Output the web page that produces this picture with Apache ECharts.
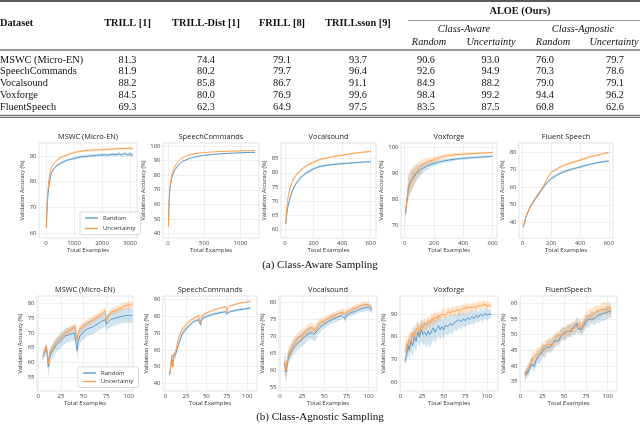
<!DOCTYPE html>
<html><head><meta charset="utf-8">
<script src="https://cdn.jsdelivr.net/npm/echarts/dist/echarts.min.js"></script>
<style>html,body{margin:0;padding:0;background:#fff}#c{width:640px;height:424px}</style>
</head><body><div id="c"></div>
<script>
// ---------------- TABLE DATA ----------------
const tableHeaders = ['TRILL [1]', 'TRILL-Dist [1]', 'FRILL [8]', 'TRILLsson [9]'];
const tableDatasets = ['MSWC (Micro-EN)', 'SpeechCommands', 'Vocalsound', 'Voxforge', 'FluentSpeech'];
const trill = [81.3, 81.9, 88.2, 84.5, 69.3];
const trillDist = [74.4, 80.2, 85.8, 80.0, 62.3];
const frill = [79.1, 79.7, 86.7, 76.9, 64.9];
const trillsson = [93.7, 96.4, 91.1, 99.6, 97.5];
const aloeAwareRandom = [90.6, 92.6, 84.9, 98.4, 83.5];
const aloeAwareUnc = [93.0, 94.9, 88.2, 99.2, 87.5];
const aloeAgnRandom = [76.0, 70.3, 79.0, 94.4, 60.8];
const aloeAgnUnc = [79.7, 78.6, 79.1, 96.2, 62.6];

// ---------------- CHART TITLES / TICKS ----------------
const titlesA = ['MSWC (Micro-EN)', 'SpeechCommands', 'Vocalsound', 'Voxforge', 'Fluent Speech'];
const titlesB = ['MSWC (Micro-EN)', 'SpeechCommands', 'Vocalsound', 'Voxforge', 'FluentSpeech'];
const xTicksA1 = [0, 1000, 2000, 3000];
const xTicksA2 = [0, 500, 1000];
const xTicksA = [0, 200, 400, 600];
const xTicksB = [0, 25, 50, 75, 100];
const yTicksA1 = [60, 70, 80, 90];
const yTicksA2 = [40, 50, 60, 70, 80, 90, 100];
const yTicksA3 = [60, 65, 70, 75, 80, 85];
const yTicksA4 = [70, 80, 90, 100];
const yTicksA5 = [40, 50, 60, 70, 80];
const yTicksB1 = [55, 60, 65, 70, 75, 80];
const yTicksB2 = [40, 50, 60, 70, 80, 90];
const yTicksB3 = [55, 60, 65, 70, 75, 80];
const yTicksB4 = [60, 70, 80, 90];
const yTicksB5 = [35, 40, 45, 50, 55, 60];

// ---------------- SERIES DATA [x, mean, std] ----------------
// (a) Class-aware
const a1Random = [[10,62,0.6],[50,72,0.8],[100,78,0.8],[150,81.5,0.7],[200,83.5,0.6],[300,85.3,0.5],[400,86.3,0.5],[500,87,0.5],[600,87.6,0.5],[750,88.3,0.5],[900,88.7,0.5],[1000,89,0.5],[1200,89.5,0.5],[1400,89.8,0.5],[1600,90,0.5],[1800,90.2,0.5],[2000,90.4,0.6],[2200,90.3,0.6],[2400,90.6,0.6],[2500,90.4,0.7],[2600,90.8,0.7],[2700,90.3,0.7],[2800,90.9,0.7],[2900,90.4,0.8],[3000,90.7,0.8],[3100,90.2,0.8]];
const a1Unc = [[10,62,0.6],[50,74,0.8],[100,80.5,0.7],[150,83.8,0.6],[200,85.7,0.5],[300,87.3,0.4],[400,88.4,0.4],[500,89.2,0.4],[600,89.7,0.4],[750,90.3,0.4],[900,90.9,0.4],[1000,91.3,0.4],[1200,91.7,0.4],[1400,92,0.4],[1600,92.2,0.4],[1800,92.3,0.4],[2000,92.4,0.4],[2200,92.5,0.4],[2400,92.7,0.4],[2600,92.8,0.4],[2800,92.9,0.4],[3000,93,0.4],[3100,92.8,0.4]];
const a2Random = [[5,45,1],[15,62,1],[25,70,1],[50,78,0.8],[75,81.5,0.6],[100,84,0.5],[150,87.5,0.4],[200,89.5,0.4],[300,91.5,0.3],[400,92.8,0.3],[500,93.6,0.3],[600,94.1,0.3],[700,94.5,0.3],[800,94.8,0.3],[900,95.1,0.3],[1000,95.3,0.3],[1100,95.5,0.3],[1200,95.6,0.3]];
const a2Unc = [[5,45,1],[15,64,1],[25,72,1],[50,80,0.8],[75,83.8,0.6],[100,86.5,0.5],[150,90,0.4],[200,92,0.3],[300,94,0.3],[400,95,0.3],[500,95.5,0.2],[600,95.8,0.2],[700,96.1,0.2],[800,96.3,0.2],[900,96.5,0.2],[1000,96.6,0.2],[1100,96.7,0.2],[1200,96.8,0.2]];
const a3Random = [[5,62,0.8],[10,64.5,0.8],[20,68,0.8],[35,71,0.7],[50,73.5,0.7],[75,76,0.6],[100,77.8,0.6],[125,79,0.6],[150,80,0.5],[200,81.4,0.5],[250,82.3,0.4],[300,82.7,0.4],[350,83,0.4],[400,83.2,0.4],[450,83.4,0.3],[500,83.6,0.3],[550,83.8,0.3],[600,83.9,0.3]];
const a3Unc = [[5,62,0.8],[10,66,0.8],[20,71,0.8],[35,74.5,0.7],[50,77,0.7],[75,79,0.6],[100,80.5,0.6],[125,81.6,0.5],[150,82.5,0.5],[200,83.8,0.4],[250,84.8,0.4],[300,85.3,0.3],[350,85.8,0.3],[400,86.2,0.3],[450,86.6,0.3],[500,87,0.3],[550,87.3,0.3],[600,87.5,0.3]];
const a4Random = [[5,74,1.5],[15,79,3],[25,84,4],[40,86.5,4],[60,88.5,3.5],[80,90,3],[100,91,2.5],[125,92,2],[150,92.8,1.5],[200,93.8,1],[250,94.6,0.8],[300,95.1,0.7],[350,95.5,0.6],[400,95.8,0.6],[450,96,0.5],[500,96.2,0.5],[550,96.4,0.5],[600,96.6,0.4]];
const a4Unc = [[5,74,1.5],[15,80,3],[25,85,4.5],[40,87,4.5],[60,89,4],[80,90.5,3],[100,92,2.5],[125,93.5,2],[150,94.3,1.5],[200,95.3,1],[250,96.3,0.8],[300,96.9,0.7],[350,97.2,0.6],[400,97.4,0.5],[450,97.6,0.5],[500,97.7,0.4],[550,97.9,0.4],[600,98,0.4]];
const a5Random = [[5,37,0.5],[25,43,0.6],[50,48,0.7],[75,51.5,0.8],[100,54.5,0.8],[125,57.5,0.8],[150,60.5,0.8],[175,63,0.8],[200,65,0.8],[250,67.5,0.8],[300,69.3,0.7],[350,70.5,0.7],[400,71.6,0.7],[450,72.7,0.6],[500,73.7,0.6],[550,74.5,0.6],[600,75,0.5]];
const a5Unc = [[5,37.5,0.5],[25,43.5,0.6],[50,48.5,0.7],[75,52,0.8],[100,55,0.8],[125,58,0.8],[150,61.5,0.8],[175,65.5,0.8],[200,68.5,0.8],[250,71,0.7],[300,73,0.7],[350,74.2,0.6],[400,75.5,0.6],[450,77,0.6],[500,78,0.5],[550,79,0.5],[600,80,0.5]];
// (b) Class-agnostic
const b1Random = [[5,62,1.5],[7,63.5,2],[9,64.5,2],[10,63,2.5],[11,58.5,3.5],[12,61,3],[14,63,2.5],[17,64.5,2.5],[20,66,2.5],[25,67.5,2.5],[30,69,2.5],[35,69.5,2.5],[40,70,2.5],[42,69.5,3],[43,64,4],[44,67,3],[46,69,2.5],[50,70.5,2.5],[55,71.5,2.5],[60,72,2.5],[65,73,2.5],[70,74,2.5],[74,74.5,2.5],[75,73,3],[76,73.5,2.5],[80,74.5,2.5],[85,75,2.5],[90,75.5,2.5],[95,75.8,2.5],[100,76,2.5],[104,75.8,2.5]];
const b1Unc = [[5,62,1],[7,64,1.2],[9,65.5,1.2],[10,63,1.5],[11,59.5,2],[12,62,1.5],[14,64,1.2],[17,65.5,1.2],[20,67,1.2],[25,68.5,1.2],[30,70,1.2],[35,71,1.2],[40,72,1.2],[42,71.5,1.5],[43,67.5,2],[44,70,1.5],[46,71.5,1.2],[50,72.5,1.2],[55,73.5,1.2],[60,74.5,1.2],[65,75.5,1.2],[70,76.5,1.2],[74,77.5,1.2],[75,74,1.5],[76,75,1.2],[80,77,1.2],[85,77.7,1.2],[90,78.3,1.2],[95,79,1.2],[100,79.5,1.2],[104,79.5,1.2]];
const b2Random = [[5,45,1],[6,48,1.5],[7,52,2],[8,54,2],[9,50,2],[10,56,2],[11,57,1.5],[12,55,2],[13,58,1.5],[14,60,1.5],[16,63,1.5],[18,66,1.5],[20,69,1.5],[25,72.5,1.2],[30,75,1],[35,77,1],[40,78,1],[42,78.5,1],[43,75,1.5],[44,77.5,1],[46,79,1],[50,80,0.8],[55,80.8,0.8],[60,81.5,0.8],[65,82,0.8],[70,82.5,0.8],[74,82.8,0.8],[75,81.5,1],[76,82.5,0.8],[80,83,0.8],[85,83.5,0.7],[90,84,0.7],[95,84.3,0.7],[100,84.7,0.7],[104,85,0.7]];
const b2Unc = [[5,45,1],[6,48.5,1.5],[7,53,2],[8,57,2],[9,50,2],[10,57,2],[11,58,1.5],[12,56,2],[13,60,1.5],[14,63,1.5],[16,67,1.5],[18,69.5,1.2],[20,72,1.2],[25,75,1],[30,77.5,1],[35,79,0.8],[40,80.5,0.8],[42,80.5,0.8],[43,76,1.2],[44,79,1],[46,81,0.8],[50,82,0.6],[55,83,0.6],[60,84,0.6],[65,84.7,0.6],[70,85.3,0.6],[74,86,0.6],[75,82.5,1],[76,85,0.6],[80,86.5,0.5],[85,87.2,0.5],[90,87.8,0.5],[95,88.3,0.5],[100,88.6,0.5],[104,89,0.5]];
const b3Random = [[5,62,2.5],[6,61,3],[7,59.5,3],[8,61,2.5],[9,63,2],[10,64,2],[12,65,2],[15,66.5,2],[18,67.5,2],[20,68,2],[25,69,2],[30,70.3,2],[35,71,1.8],[38,70.5,1.8],[40,70.2,1.8],[42,71.5,1.5],[45,72.5,1.5],[50,73.5,1.3],[55,74.3,1.2],[60,75,1.2],[65,75.5,1.2],[70,76,1],[72,76.5,1],[73,75,1.2],[75,76,1],[80,76.8,1],[85,77.2,1],[90,77.8,1],[95,78.2,1],[100,78.4,1],[104,77.6,1]];
const b3Unc = [[5,62.5,3],[6,62,3],[7,60,3],[8,60.5,2.5],[9,64,2],[10,65,2],[12,66,2],[15,67.5,2],[18,68.5,1.8],[20,69.3,1.8],[25,70.3,1.6],[30,71.5,1.5],[35,72.5,1.5],[38,72.3,1.4],[40,71.5,1.4],[42,73,1.3],[45,74,1.2],[50,74.5,1.2],[55,75.3,1],[60,76,1],[65,76.5,1],[70,77,1],[72,77.3,1],[73,76.5,1],[75,77,1],[80,77.8,0.8],[85,78.3,0.8],[90,78.8,0.8],[95,79.3,0.8],[100,79.2,0.8],[104,78.2,0.8]];
const b4Random = [[5,69,2],[7,72,3],[9,76,4],[10,74,4],[12,78,4.5],[14,76,5],[16,80,4.5],[18,78,5],[20,82,4.5],[22,80,5],[24,83,4.5],[26,81,5],[28,82,5],[30,80.5,5.5],[32,82.5,5.5],[34,81,6],[36,82.5,5.5],[38,84,5],[40,82,5],[42,83.5,4.5],[44,85,4.5],[46,83,4.5],[48,84.5,4],[50,83,4.5],[52,85,4],[55,84.5,4],[58,86,4],[60,85,4],[63,86.5,3.5],[65,86,3.5],[68,87.5,3.5],[70,86.5,3.5],[73,88,3],[75,87,3],[78,88.5,3],[80,87.5,3],[83,89,3],[85,88,3],[88,89.5,2.5],[90,88.5,2.5],[93,90,2.5],[95,89,2.5],[98,90.5,2.5],[100,89.5,2.5],[103,90,2],[105,89.8,2]];
const b4Unc = [[5,74,3],[6,73,3],[7,77,3.5],[8,75,3.5],[10,79,3.5],[12,78,3.5],[14,82,3],[16,80,3.5],[18,83,3],[20,84,3],[22,82,3],[24,85,3],[26,84,3],[28,86,2.5],[30,85,2.5],[32,87,2.5],[34,86,2.5],[36,88,2.5],[38,87,2.5],[40,89,2.5],[42,88,2.5],[44,89.5,2],[46,88.5,2],[48,90,2],[50,90.5,2],[52,89.5,2],[55,91,2],[58,90.5,2],[60,91.5,2],[63,91,2],[65,92,2],[68,91.5,2],[70,92,2],[73,92.5,2],[75,92,2],[78,93,2],[80,92.5,2],[83,93,1.8],[85,93.5,1.8],[88,93,1.8],[90,94,1.8],[93,93.5,1.8],[95,94,1.8],[98,94.5,1.5],[100,93.5,1.5],[103,94,1.5],[105,93.5,1.5]];
const b5Random = [[5,38,1.5],[6,37,1.5],[7,38.5,1.5],[8,37.5,1.5],[10,39,1.8],[12,40.5,1.8],[14,41,2],[16,40,2],[18,42,2],[20,43,2],[22,42.5,2],[24,44,2],[26,45,2],[28,44.5,2],[30,46,2],[32,46.5,2],[34,46,2],[36,47,2],[38,47.5,2],[40,48,2],[42,48.5,2],[44,48,2],[46,49.5,2],[48,50,2],[50,50.5,2],[52,50,2],[54,51,2],[56,51.5,2],[58,51,2],[60,52,2],[62,51.5,2],[64,53.5,2.5],[66,52,2],[68,52.5,2],[70,51.5,2],[72,52.5,2],[74,53.5,2],[76,54.5,2],[78,54,2],[80,55,2],[82,55.5,2],[85,55,2],[88,56,2],[90,55.5,2],[93,56.5,2],[95,56,2],[98,57,2],[100,57,2],[102,57.5,2],[104,57,2]];
const b5Unc = [[5,37,1.5],[6,36.5,1.5],[7,38,1.5],[8,39,1.5],[10,40,1.8],[12,41,1.8],[14,42.5,2],[16,42,2],[18,43.5,2],[20,44,2],[22,44,2],[24,45.5,2],[26,45,2],[28,46.5,2],[30,46,2],[32,47,2],[34,47.5,2],[36,46.5,2],[38,48,2],[40,48,2],[42,49.5,2],[44,49,2],[46,50,2],[48,50.5,2],[50,50,2],[52,51,2],[54,51.5,2],[56,51,2],[58,52,2],[60,52.5,2],[62,52,2],[64,52.5,2],[66,53.5,2],[68,53,2],[70,52,2],[72,53.5,2],[74,54.5,2],[76,55,2],[78,56,2],[80,56.5,2],[82,56,2],[85,57,2],[88,57.5,2],[90,57,2],[93,58,2],[95,58.5,2],[98,58,2],[100,58.5,2],[102,58.5,2],[104,57.5,2]];

// ---------------- LAYOUT ----------------
const F = 'Open Sans';
const SERIF = 'Liberation Serif';
const BLUE = '#4f93c9', ORANGE = '#ff9a45';
const BLUE_BAND = 'rgba(31,119,180,0.20)', ORANGE_BAND = 'rgba(255,127,14,0.22)';

const plots = [
  {l:39, r:137, t:143, h:95, x:[-250,3250], y:[58,95], xt:xTicksA1, yt:yTicksA1, gap:8.5, title:titlesA[0], rnd:a1Random, unc:a1Unc, nameGapX:9},
  {l:163, r:259, t:143, h:95, x:[-70,1256], y:[37,102], xt:xTicksA2, yt:yTicksA2, gap:12, title:titlesA[1], rnd:a2Random, unc:a2Unc, nameGapX:9},
  {l:281, r:376, t:143, h:95, x:[-28,637], y:[57,90.5], xt:xTicksA, yt:yTicksA3, gap:9.5, title:titlesA[2], rnd:a3Random, unc:a3Unc, nameGapX:9},
  {l:401, r:497, t:143, h:95, x:[-25,630], y:[65,101.7], xt:xTicksA, yt:yTicksA4, gap:12, title:titlesA[3], rnd:a4Random, unc:a4Unc, nameGapX:9},
  {l:519, r:613, t:143, h:95, x:[-24,629], y:[31,85.3], xt:xTicksA, yt:yTicksA5, gap:9.5, title:titlesA[4], rnd:a5Random, unc:a5Unc, nameGapX:9},
  {l:37, r:133, t:296, h:95, x:[-1.4,104.7], y:[50.4,82.5], xt:xTicksB, yt:yTicksB1, gap:9, title:titlesB[0], rnd:b1Random, unc:b1Unc, nameGapX:8},
  {l:163, r:257, t:296, h:95, x:[-3,112], y:[35.4,92.2], xt:xTicksB, yt:yTicksB2, gap:12.5, title:titlesB[1], rnd:b2Random, unc:b2Unc, nameGapX:8},
  {l:279, r:377, t:296, h:95, x:[-1,109.5], y:[54,81.7], xt:xTicksB, yt:yTicksB3, gap:10.5, title:titlesB[2], rnd:b3Random, unc:b3Unc, nameGapX:8},
  {l:400, r:498, t:296, h:95, x:[-0.6,113], y:[56,98], xt:xTicksB, yt:yTicksB4, gap:10, title:titlesB[3], rnd:b4Random, unc:b4Unc, nameGapX:8},
  {l:520, r:617, t:296, h:95, x:[-0.6,110.7], y:[32,62.3], xt:xTicksB, yt:yTicksB5, gap:9, title:titlesB[4], rnd:b5Random, unc:b5Unc, nameGapX:8}
];

const grids = [], xAxes = [], yAxes = [], series = [], graphics = [];

function bandSeries(arr, color, i) {
  return {
    type: 'custom', xAxisIndex: i, yAxisIndex: i, silent: true, z: 1, clip: true,
    data: [[arr[0][0], arr[0][1]]],
    renderItem: function (params, api) {
      const pts = [];
      for (let k = 0; k < arr.length; k++) pts.push(api.coord([arr[k][0], arr[k][1] + arr[k][2]]));
      for (let k = arr.length - 1; k >= 0; k--) pts.push(api.coord([arr[k][0], arr[k][1] - arr[k][2]]));
      return { type: 'polygon', shape: { points: pts }, style: { fill: color } };
    }
  };
}
function lineSeries(name, arr, color, i, z) {
  return {
    type: 'line', name: name, xAxisIndex: i, yAxisIndex: i, z: z,
    symbol: 'none', showSymbol: false, animation: false, clip: true,
    lineStyle: { width: 0.9, color: color }, itemStyle: { color: color },
    data: arr.map(d => [d[0], d[1]])
  };
}
const plain = v => String(v);

plots.forEach((p, i) => {
  grids.push({ left: p.l, top: p.t, width: p.r - p.l, height: p.h, show: true,
    borderColor: '#dcdcdc', borderWidth: 0.8, backgroundColor: 'transparent' });
  xAxes.push({ type: 'value', gridIndex: i, min: p.x[0], max: p.x[1],
    axisLine: { show: false }, axisTick: { show: false, customValues: p.xt },
    axisLabel: { customValues: p.xt, formatter: plain, fontSize: 6, color: '#444', margin: 2.5, fontFamily: F, showMinLabel: true, showMaxLabel: true },
    splitLine: { show: true, lineStyle: { color: '#ebebeb', width: 0.8 } },
    name: 'Total Examples', nameLocation: 'middle', nameGap: p.nameGapX,
    nameTextStyle: { fontSize: 6, color: '#333', fontFamily: F } });
  yAxes.push({ type: 'value', gridIndex: i, min: p.y[0], max: p.y[1],
    axisLine: { show: false }, axisTick: { show: false, customValues: p.yt },
    axisLabel: { customValues: p.yt, formatter: plain, fontSize: 6, color: '#444', margin: 2.5, fontFamily: F },
    splitLine: { show: true, lineStyle: { color: '#ebebeb', width: 0.8 } },
    name: 'Validation Accuracy (%)', nameLocation: 'middle', nameGap: p.gap, nameRotate: 90,
    nameTextStyle: { fontSize: 5.6, color: '#333', fontFamily: F } });
  series.push(bandSeries(p.rnd, BLUE_BAND, i));
  series.push(bandSeries(p.unc, ORANGE_BAND, i));
  series.push(lineSeries('Random', p.rnd, BLUE, i, 3));
  series.push(lineSeries('Uncertainty', p.unc, ORANGE, i, 4));
  graphics.push(txt(p.title, (p.l + p.r) / 2, p.t - 2.5, { fontSize: 7.4, fontFamily: F, fill: '#222', v: 'bottom' }));
});

function txt(text, x, y, o) {
  o = o || {};
  return { type: 'text', x: x, y: y, silent: true, z: 100,
    style: { text: text, fontSize: o.fontSize || 10.3, fontFamily: o.fontFamily || SERIF,
      fontWeight: o.fontWeight || 'normal', fontStyle: o.fontStyle || 'normal',
      fill: o.fill || '#111', textAlign: o.align || 'center', align: o.align || 'center',
      textVerticalAlign: o.v || 'middle', verticalAlign: o.v || 'middle' } };
}
function hline(x1, x2, y, w, c) {
  return { type: 'line', silent: true, z: 100, shape: { x1: x1, y1: y, x2: x2, y2: y },
    style: { stroke: c || '#222', lineWidth: w } };
}

// ---------------- TABLE ----------------
const colX = [127.5, 206, 282, 358, 426, 490.5, 545, 615];
const headerY = 23.3;
graphics.push(hline(0, 640, 1, 1.6));
graphics.push(txt('Dataset', 0, headerY, { fontWeight: 'bold', align: 'left' }));
tableHeaders.forEach((h, k) => graphics.push(txt(h, colX[k], headerY, { fontWeight: 'bold' })));
graphics.push(txt('ALOE (Ours)', 520, 11.5, { fontWeight: 'bold' }));
graphics.push(hline(408, 640, 20.5, 0.6, '#555'));
graphics.push(txt('Class-Aware', 464, 29.5, { fontStyle: 'italic' }));
graphics.push(txt('Class-Agnostic', 583, 29.5, { fontStyle: 'italic' }));
['Random', 'Uncertainty', 'Random', 'Uncertainty'].forEach((h, k) =>
  graphics.push(txt(h, [429, 491, 553, 614][k], 41.8, { fontStyle: 'italic' })));
graphics.push(hline(0, 640, 50, 0.9));
const cols = [trill, trillDist, frill, trillsson, aloeAwareRandom, aloeAwareUnc, aloeAgnRandom, aloeAgnUnc];
tableDatasets.forEach((d, r) => {
  const y = 59.8 + r * 11.95;
  graphics.push(txt(d, 0, y, { align: 'left' }));
  cols.forEach((c, k) => graphics.push(txt(c[r].toFixed(1), colX[k], y)));
});
graphics.push(hline(0, 640, 115.3, 0.8));
graphics.push(hline(0, 640, 117.3, 0.8));

// captions
graphics.push(txt('(a) Class-Aware Sampling', 320, 265.5, { fontSize: 11 }));
graphics.push(txt('(b) Class-Agnostic Sampling', 320, 417.5, { fontSize: 11 }));

const legendBase = { orient: 'vertical', data: ['Random', 'Uncertainty'], selectedMode: false,
  icon: 'rect', itemWidth: 13, itemHeight: 1.3, backgroundColor: '#fff',
  borderColor: '#cccccc', borderWidth: 0.7, borderRadius: 2, padding: [3, 5, 3, 5],
  textStyle: { fontSize: 6, color: '#333', fontFamily: F } };

const chart = echarts.init(document.getElementById('c'), null, { renderer: 'canvas' });
chart.setOption({
  animation: false,
  grid: grids, xAxis: xAxes, yAxis: yAxes, series: series,
  legend: [
    Object.assign({}, legendBase, { left: 80, top: 212, itemGap: 4.5 }),
    Object.assign({}, legendBase, { left: 78, top: 367, itemGap: 2.5 })
  ],
  graphic: graphics
});
</script></body></html>
